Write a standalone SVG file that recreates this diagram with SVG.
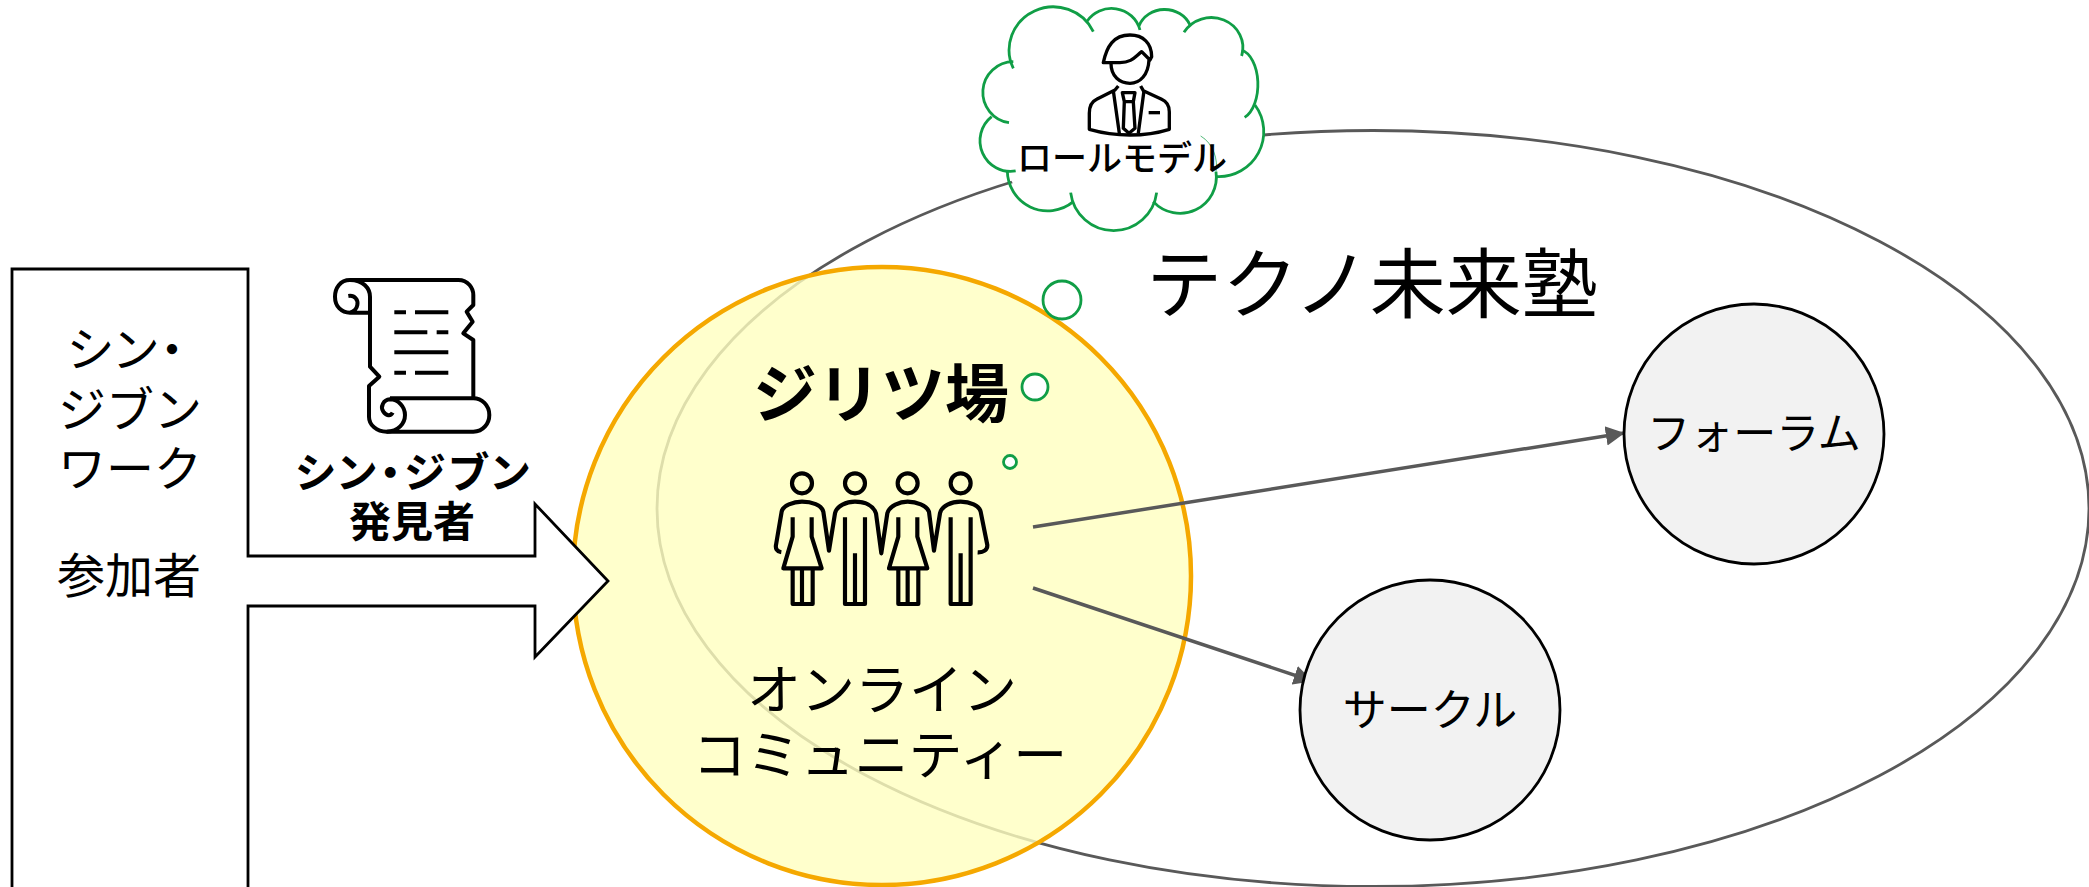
<svg xmlns="http://www.w3.org/2000/svg" width="2089" height="887" viewBox="0 0 2089 887">
<defs>
<style>
text{font-family:"Noto Sans CJK JP","Noto Sans",sans-serif;fill:#000;text-anchor:middle}
.b{font-weight:700}
.p{font-feature-settings:"palt"}
.conn{fill:none;stroke:#595959;stroke-width:3.5}
.hub{fill:#f2f2f2;stroke:#000;stroke-width:2.8}
.thought{fill:#fff;stroke:#109e46;stroke-width:2.8}
.cl{fill:none;stroke:#109e46;stroke-width:8.4;stroke-linecap:butt}
.ico{fill:none;stroke:#000;stroke-linejoin:round}
</style>
<marker id="ah" markerWidth="6" markerHeight="6" refX="5.2" refY="3" orient="auto" markerUnits="strokeWidth"><path d="M0,0.2L5.4,3L0,5.8Z" fill="#595959"/></marker>
</defs>
<rect width="2089" height="887" fill="#fff"/>
<g id="juku">
<ellipse cx="1373" cy="508.5" rx="716" ry="378" fill="none" stroke="#595959" stroke-width="2.8"/>
<text x="1372" y="312" font-size="76">テクノ未来塾</text>
</g>
<g id="jiritsuba">
<circle cx="882" cy="576" r="309" fill="#ffffbf" fill-opacity=".8" stroke="#f5a800" stroke-width="4.5"/>
<text class="b" x="881" y="417" font-size="64">ジリツ場</text>
<text x="882" y="710" font-size="54">オンライン</text>
<text x="880" y="775" font-size="54">コミュニティー</text>
<g class="ico" stroke-width="12.5" transform="translate(740 340) scale(.3333)">
<circle cx="186" cy="430" r="30"/><circle cx="345" cy="430" r="30"/><circle cx="503" cy="430" r="30"/><circle cx="662" cy="430" r="30"/>
<path d="M124,637C110,635 106,625 108,615L125,515C128,497 160,485 186,485C215,485 245,495 250,515L267,632L285,520C290,497 320,485 345,485C375,485 400,497 408,520L424,640L442,520C448,497 480,485 503,485C530,485 560,497 567,515L582,632L600,520C605,497 635,485 662,485C690,485 718,497 722,515L742,615C743,630 730,638 713,637"/>
<path d="M158,532V590L130,685H245L215,590V532M158,685V792H218V685M186,685V792"/>
<path d="M315,532V792H375V532M345,640V792"/>
<path d="M475,532V590L447,685H562L532,590V532M475,685V792H535V685M503,685V792"/>
<path d="M632,532V792H692V532M662,640V792"/>
</g>
</g>
<g id="connectors">
<path class="conn" marker-end="url(#ah)" d="M1033,527L1624,433"/>
<path class="conn" marker-end="url(#ah)" d="M1033,588L1312,681"/>
</g>
<g id="forum"><circle class="hub" cx="1754" cy="434" r="130"/><text x="1754" y="449" font-size="43">フォーラム</text></g>
<g id="circle"><circle class="hub" cx="1430" cy="710" r="130"/><text x="1430" y="726" font-size="44">サークル</text></g>
<g id="participants">
<path d="M12,890V269H248V556H535V504L608,581L535,657V606H248V890" fill="#fff" stroke="#000" stroke-width="2.8"/>
<text class="p" x="127" y="367" font-size="48" letter-spacing="3">シン・</text>
<text x="130" y="427" font-size="48">ジブン</text>
<text x="130" y="486" font-size="48">ワーク</text>
<text x="129" y="593" font-size="48">参加者</text>
</g>
<g id="finder">
<g class="ico" stroke-width="12" transform="translate(300 260) scale(.3333)">
<path d="M150,60H475C505,60 520,85 520,105V135L500,155L518,185L490,220L520,240V415"/>
<path d="M150,60C190,60 210,85 210,110V320L238,350L207,378V470C207,495 230,515 260,515H520C550,515 568,490 568,465C568,435 545,415 520,415H270"/>
<path d="M150,60C120,60 105,85 105,110C105,140 125,158 150,158H210M145,108C165,105 175,120 172,135C170,148 160,155 150,158"/>
<path d="M260,515C295,515 315,490 315,465C315,440 295,418 270,418C250,420 240,440 250,455C258,467 272,470 278,458"/>
<path d="M283,157H318M345,157H445M283,217H382M410,217H445M283,277H445M283,338H318M345,338H445"/>
</g>
<text class="b p" x="414" y="488" font-size="42" letter-spacing="3.5">シン・ジブン</text>
<text class="b" x="412" y="537" font-size="42">発見者</text>
</g>
<g id="rolemodel">
<circle class="thought" cx="1062" cy="300" r="19"/>
<circle class="thought" cx="1035" cy="387" r="13"/>
<circle class="thought" cx="1010" cy="462" r="6.5"/>
<g transform="translate(950 0) scale(.3333)">
<path fill="#fff" d="M190,185A128,125 0 0 1 415,70A88,85 0 0 1 570,80A82,75 0 0 1 715,80A95,90 0 0 1 875,155A60,105 0 0 1 915,315A135,135 0 0 1 798,530A109,109 0 0 1 617,590A130,130 0 0 1 365,590A121,121 0 0 1 175,512A92,92 0 0 1 125,350A92,92 0 0 1 190,185Z"/>
<g class="cl">
<path d="M190,205A128,125 0 0 1 430,95"/>
<path d="M410,65A88,85 0 0 1 570,90"/>
<path d="M567,78A82,75 0 0 1 720,75"/>
<path d="M702,97A95,90 0 0 1 875,168"/>
<path d="M875,150A60,105 0 0 1 884,352"/>
<path d="M915,315A135,135 0 0 1 800,530"/>
<path d="M798,515A109,109 0 0 1 610,605"/>
<path d="M620,578A130,130 0 0 1 362,578"/>
<path d="M370,605A121,121 0 0 1 172,510"/>
<path d="M197,513A92,92 0 0 1 125,350"/>
<path d="M177,368A92,92 0 0 1 190,185"/>
</g>
<path d="M752,408C790,430 805,480 798,515" fill="none" stroke="#109e46" stroke-width="3" opacity=".7"/>
<g class="ico" stroke-width="10">
<path d="M460,188C470,140 490,105 540,105C580,105 605,130 605,170L600,180L575,155C555,170 545,188 510,188Z"/>
<path d="M483,190C483,230 510,250 540,250C570,250 595,225 597,180"/>
<path d="M505,258L495,270L440,298C425,305 418,320 418,340V388C460,400 510,405 540,405C570,405 620,400 658,388V335C658,315 650,305 635,298L580,272L572,258"/>
<path d="M490,272L508,400M582,272L565,400"/>
<path d="M517,278H555L550,305H523ZM523,305L520,385L537,400L555,385L550,305"/>
<path d="M596,338H630"/>
</g>
</g>
<text x="1122" y="171" font-size="35" font-weight="500">ロールモデル</text>
</g>
</svg>
